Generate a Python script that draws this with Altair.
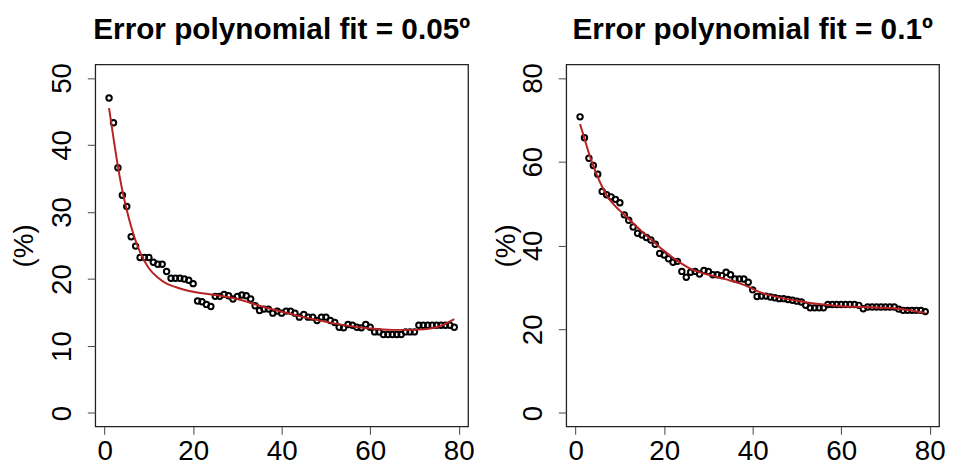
import altair as alt
import pandas as pd

FONT = "Liberation Sans"

# ---------------- data ----------------
x_index = list(range(1, 80))

left_points = [
    47.0, 43.3, 36.6, 32.5, 30.8, 26.3, 24.9, 23.2, 23.2, 23.2,
    22.5, 22.2, 22.2, 21.1, 20.1, 20.1, 20.1, 20.0, 19.8, 19.3,
    16.7, 16.6, 16.2, 15.9, 17.4, 17.4, 17.7, 17.5, 17.0, 17.4,
    17.6, 17.5, 17.0, 16.0, 15.3, 15.5, 15.5, 14.9, 15.2, 14.9,
    15.2, 15.2, 14.9, 14.3, 14.7, 14.3, 14.3, 13.8, 14.3, 14.3,
    13.8, 13.5, 12.8, 12.7, 13.2, 13.1, 12.8, 12.7, 13.2, 12.8,
    12.1, 12.1, 11.7, 11.7, 11.7, 11.7, 11.7, 12.1, 12.1, 12.1,
    13.1, 13.1, 13.1, 13.1, 13.1, 13.1, 13.1, 13.1, 12.8,
]

right_points = [
    70.7, 65.7, 60.8, 59.1, 57.0, 52.9, 52.1, 51.6, 51.0, 50.2,
    47.3, 46.0, 44.4, 42.9, 42.5, 41.9, 41.3, 40.3, 38.1, 37.7,
    36.8, 36.0, 36.2, 33.8, 32.4, 33.6, 33.8, 33.2, 34.0, 33.8,
    33.0, 33.0, 32.8, 33.6, 33.0, 32.0, 32.0, 32.0, 31.2, 29.4,
    27.8, 27.9, 27.9, 27.7, 27.5, 27.3, 27.3, 27.1, 26.9, 26.7,
    26.5, 25.7, 25.1, 25.1, 25.1, 25.1, 25.9, 25.9, 25.9, 25.9,
    25.9, 25.9, 25.9, 25.7, 24.9, 25.3, 25.3, 25.3, 25.3, 25.3,
    25.3, 25.3, 24.8, 24.5, 24.5, 24.5, 24.5, 24.5, 24.2,
]

left_fit_x = [1, 2, 3, 4, 5, 6, 7, 8, 10, 12, 14, 16, 18, 20, 25, 30, 35,
              40, 45, 50, 55, 60, 65, 70, 75, 79]
left_fit_y = [45.5, 41.0, 36.8, 33.2, 30.3, 27.8, 25.7, 24.0, 21.6, 20.2,
              19.3, 18.8, 18.4, 18.1, 17.6, 17.0, 16.0, 15.1, 14.3, 13.6,
              13.0, 12.6, 12.4, 12.4, 12.8, 14.0]

right_fit_x = [1, 2, 3, 4, 5, 6, 7, 8, 10, 12, 15, 18, 20, 23, 26, 30, 34,
               38, 42, 46, 50, 55, 60, 65, 70, 75, 79]
right_fit_y = [69.0, 65.5, 62.0, 59.0, 56.3, 54.0, 52.0, 50.5, 48.3, 46.3,
               43.3, 40.5, 38.7, 36.3, 34.4, 33.0, 31.9, 30.6, 28.7, 27.6,
               26.8, 26.0, 25.5, 25.3, 25.1, 24.6, 23.9]

left_title = "Error polynomial fit = 0.05º"
right_title = "Error polynomial fit = 0.1º"
y_title = "(%)"

x_ticks = [0, 20, 40, 60, 80]
left_y_ticks = [0, 10, 20, 30, 40, 50]
right_y_ticks = [0, 20, 40, 60, 80]

x_domain = [-2.12, 82.12]
left_y_domain = [-2, 52]
right_y_domain = [-3.2, 83.2]

W, H = 376, 365


def panel(points, fit_x, fit_y, title, y_ticks, y_domain, title_x):
    pts = pd.DataFrame({"x": x_index, "y": points})
    fit = pd.DataFrame({"x": fit_x, "y": fit_y})

    xs = alt.Scale(domain=x_domain, nice=False, zero=False)
    ys = alt.Scale(domain=y_domain, nice=False, zero=False)

    x_axis = alt.Axis(values=x_ticks, title=None, grid=False, domain=False,
                      tickSize=8, tickColor="#444", labelFontSize=28,
                      labelFont=FONT, labelColor="black", labelPadding=3,
                      labelFlush=False)
    y_axis = alt.Axis(values=y_ticks, title=y_title, grid=False, domain=False,
                      tickSize=8, tickColor="#444", labelFontSize=28,
                      labelFont=FONT, labelColor="black", labelAngle=270,
                      labelAlign="center", labelBaseline="middle",
                      labelPadding=25, labelFlush=False,
                      titleFontSize=28, titleFont=FONT, titleFontWeight="normal",
                      titleColor="black", titleAngle=270, titleAlign="center",
                      titleBaseline="middle", titleX=title_x, titleY=H / 2)

    line = alt.Chart(fit).mark_line(color="#b82222", strokeWidth=2,
                                    interpolate="monotone").encode(
        x=alt.X("x:Q", scale=xs, axis=x_axis),
        y=alt.Y("y:Q", scale=ys, axis=y_axis),
    )
    dots = alt.Chart(pts).mark_point(shape="circle", filled=False,
                                     color="black", size=30,
                                     strokeWidth=2, opacity=1).encode(
        x=alt.X("x:Q", scale=xs),
        y=alt.Y("y:Q", scale=ys),
    )
    return alt.layer(dots, line).properties(
        width=W, height=H,
        view=alt.ViewBackground(stroke="#222", strokeWidth=1.3),
        title=alt.TitleParams(title, fontSize=30, fontWeight="bold", font=FONT,
                              anchor="middle", color="black", offset=18),
    )


left = panel(left_points, left_fit_x, left_fit_y, left_title,
             left_y_ticks, left_y_domain, -71)
right = panel(right_points, right_fit_x, right_fit_y, right_title,
              right_y_ticks, right_y_domain, -60)

chart = alt.hconcat(left, right, spacing=99, bounds="flush").properties(
    padding={"left": 2, "top": 4, "right": 0, "bottom": 0}
).configure(background="white").configure_view(stroke="#222", strokeWidth=1.3)

chart.save("out.html", embed_options={"renderer": "svg", "actions": False})
